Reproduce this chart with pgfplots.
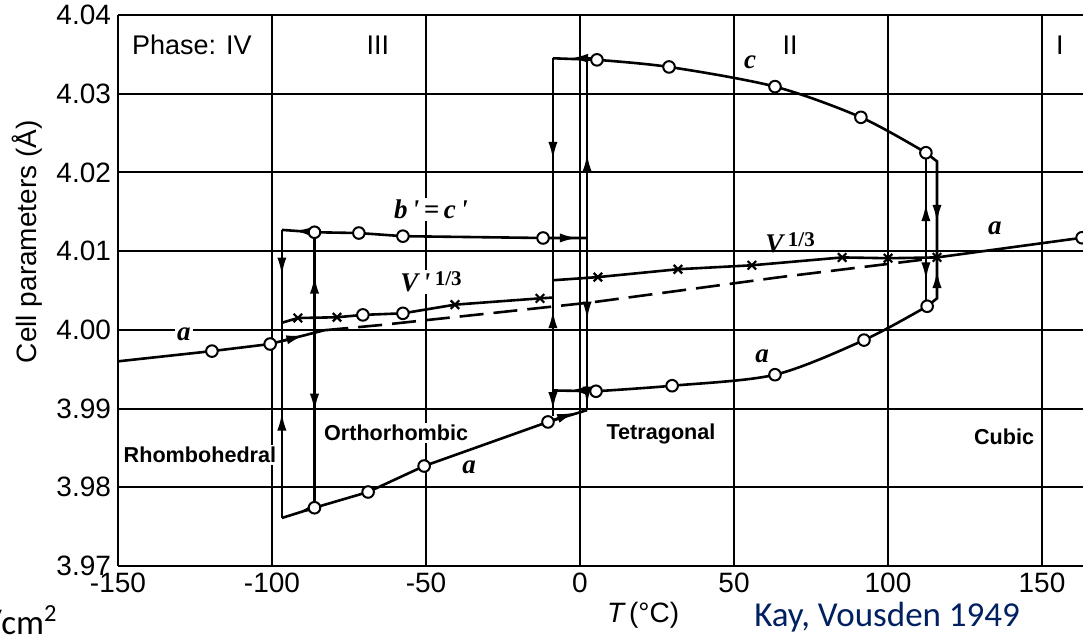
\documentclass[border=0pt]{standalone}
\usepackage{fontspec}
\setmainfont{Liberation Sans}
\newfontfamily\tnr{Liberation Serif}
\newfontfamily\carlito{Carlito}
\usepackage{pgfplots}
\pgfplotsset{compat=1.18}
\usetikzlibrary{arrows.meta}
\definecolor{navy}{RGB}{0,32,96}
\pgfplotsset{
  ln/.style={black, line width=1.3pt, mark=none},
  circ/.style={only marks, mark=*, mark size=2.9pt, mark options={fill=white, draw=black, line width=1pt, solid}},
  xm/.style={only marks, mark=x, mark size=3pt, mark options={black, line width=1.1pt, solid}},
  arr/.style={black, line width=1.3pt, mark=none, -{Latex[length=9pt,width=4.6pt]}},
}
\begin{document}
\begin{tikzpicture}
\begin{axis}[
  at={(0,0)}, anchor=south west,
  scale only axis, width=482.5pt, height=275.5pt,
  xmin=-150, xmax=163.3, ymin=3.97, ymax=4.04,
  xtick={-150,-100,-50,0,50,100,150},
  ytick={3.97,3.98,3.99,4.00,4.01,4.02,4.03,4.04},
  grid=major, major grid style={black, line width=1.05pt},
  axis x line=box, axis y line=left,
  axis line style={-, black, line width=1.3pt},
  every outer x axis line/.append style={-}, every outer y axis line/.append style={-},
  major tick length=0pt, tick style={draw=none},
  /pgf/number format/assume math mode=true,
  tick label style={font=\fontsize{14}{14}\selectfont},
  yticklabel style={/pgf/number format/.cd, fixed, fixed zerofill, precision=2},
  xticklabel style={/pgf/number format/.cd, fixed, precision=0},
  clip=false,
]
% rhombohedral a (solid) and extrapolated dashed line
\addplot[ln] coordinates {(-150,3.9960) (-119.5,3.9973) (-100.6,3.9982) (-83,3.99995)};
\addplot[ln, dash pattern=on 12pt off 5pt] coordinates {(-83,3.99995) (-65,4.0006) (4,4.0035) (65,4.0067) (111,4.0089)};
% orthorhombic b'=c'
\addplot[ln] coordinates {(-96.8,4.0127) (-86.2,4.0124) (-71.8,4.0123) (-57.5,4.0119) (-12.0,4.01167) (2.3,4.01167)};
% orthorhombic a
\addplot[ln] coordinates {(-96.8,3.9761) (-86.2,3.9774) (-68.8,3.9794) (-50.6,3.9827) (-10.4,3.9883) (2.3,3.9898)};
% V'^(1/3)
\addplot[ln] coordinates {(-96.8,4.0009) (-91.6,4.0015) (-78.9,4.0016) (-70.5,4.0019) (-57.5,4.0021) (-40.6,4.0032) (-13,4.0040) (-8.8,4.0041)};
% tetragonal c
\addplot[ln] coordinates {(-8.8,4.0345) (5.5,4.0343)};
\addplot[ln, smooth] coordinates {(5.5,4.0343) (28.9,4.0334) (63.3,4.0309) (91.2,4.0270) (112.3,4.0225)};
% tetragonal a
\addplot[ln] coordinates {(-8.8,3.9923) (5.2,3.9922)};
\addplot[ln, smooth] coordinates {(5.2,3.9922) (29.9,3.9929) (63.3,3.9943) (92.2,3.9987) (112.7,4.0030)};
% tetragonal V^(1/3)
\addplot[ln] coordinates {(-8.8,4.0063) (5.8,4.0067) (31.8,4.0077) (55.8,4.0082) (85.1,4.0092) (100,4.0091) (115.9,4.0092)};
% cubic a
\addplot[ln] coordinates {(115.9,4.0092) (163,4.0117)};
% vertical transition lines
\addplot[ln] coordinates {(-96.8,4.0127) (-96.8,3.9761)};
\addplot[ln] coordinates {(-86.2,4.0124) (-86.2,3.9774)};
\addplot[ln] coordinates {(-8.8,4.0345) (-8.8,3.9890)};
\addplot[ln] coordinates {(2.3,4.0345) (2.3,3.9898)};
\addplot[ln] coordinates {(112.3,4.0225) (112.3,4.0030)};
\addplot[ln] coordinates {(112.3,4.0225) (115.9,4.0214) (115.9,4.0040) (112.7,4.0030)};
% arrows
\addplot[arr] coordinates {(-97,3.99856) (-89.5,3.9993)};
\addplot[arr] coordinates {(-86.2,4.01243) (-93,4.0126)};
\addplot[arr] coordinates {(-96.8,4.0100) (-96.8,4.0069)};
\addplot[arr] coordinates {(-96.8,3.9858) (-96.8,3.9895)};
\addplot[arr] coordinates {(-86.2,4.0035) (-86.2,4.0069)};
\addplot[arr] coordinates {(-86.2,3.9932) (-86.2,3.9896)};
\addplot[arr] coordinates {(-86.2,3.97745) (-91.5,3.9768)};
\addplot[arr] coordinates {(-10,4.01167) (-0.7,4.01167)};
\addplot[arr] coordinates {(5,4.0345) (-3.2,4.0345)};
\addplot[arr] coordinates {(-8.8,4.0255) (-8.8,4.0216)};
\addplot[arr] coordinates {(-8.8,3.9990) (-8.8,4.0025)};
\addplot[arr] coordinates {(-8.8,3.9932) (-8.8,3.9898)};
\addplot[arr] coordinates {(2.3,4.0188) (2.3,4.0224)};
\addplot[arr] coordinates {(2.3,4.0050) (2.3,4.0013)};
\addplot[arr] coordinates {(2.3,3.9937) (2.3,3.9905)};
\addplot[arr] coordinates {(5.2,3.9923) (-3.5,3.9923)};
\addplot[arr] coordinates {(-10.4,3.9883) (-1.6,3.9895)};
\addplot[arr] coordinates {(112.3,4.0125) (112.3,4.0161)};
\addplot[arr] coordinates {(112.3,4.0097) (112.3,4.0063)};
\addplot[arr] coordinates {(115.9,4.0172) (115.9,4.0136)};
\addplot[arr] coordinates {(115.9,4.0042) (115.9,4.0076)};
% markers
\addplot[xm] coordinates {(-91.6,4.0015) (-78.9,4.0016) (-40.6,4.0032) (-13,4.0040)
  (5.8,4.0067) (31.8,4.0077) (55.8,4.0082) (85.1,4.0092) (100,4.0091) (115.9,4.0092)};
\addplot[circ] coordinates {(-119.5,3.9973) (-100.6,3.9982)
  (-86.2,4.0124) (-71.8,4.0123) (-57.5,4.0119) (-12.0,4.01167)
  (-86.2,3.9774) (-68.8,3.9794) (-50.6,3.9827) (-10.4,3.9883)
  (-70.5,4.0019) (-57.5,4.0021)
  (5.5,4.0343) (28.9,4.0334) (63.3,4.0309) (91.2,4.0270) (112.3,4.0225)
  (5.2,3.9922) (29.9,3.9929) (63.3,3.9943) (92.2,3.9987) (112.7,4.0030)
  (163,4.0117)};
% phase labels
\begin{scope}[every node/.style={font=\fontsize{13.5}{14}\selectfont, inner sep=1pt}]
\node at (axis cs:-126,4.0362) {Phase: IV};
\node at (axis cs:-65.6,4.0362) {III};
\node at (axis cs:68.2,4.0362) {II};
\node at (axis cs:155.8,4.0362) {I};
\end{scope}
\begin{scope}[every node/.style={font=\fontsize{10.8}{12}\selectfont\bfseries, inner sep=1pt}]
\node[fill=white] at (axis cs:-123.4,3.9841) {Rhombohedral};
\node[fill=white] at (axis cs:-59.7,3.9869) {Orthorhombic};
\node at (axis cs:26.3,3.98677) {Tetragonal};
\node at (axis cs:137.7,3.98639) {Cubic};
\end{scope}
\begin{scope}[every node/.style={font=\fontsize{13.5}{14}\selectfont\tnr\bfseries\itshape, inner sep=1pt}]
\node[fill=white] at (axis cs:-128.6,3.99947) {a};
\node[fill=white] at (axis cs:-48.4,4.01535) {b\,'\,=\,c\,'};
\node[fill=white] at (axis cs:-48.4,4.00608) {V\,'\,\raisebox{3pt}{\upshape\fontsize{10.5}{11}\selectfont 1/3}};
\node at (axis cs:55.2,4.03403) {c};
\node at (axis cs:68.2,4.01103) {V\,\raisebox{3pt}{\upshape\fontsize{10.5}{11}\selectfont 1/3}};
\node at (axis cs:134.7,4.01294) {a};
\node at (axis cs:59.1,3.99668) {a};
\node at (axis cs:-36.0,3.98257) {a};
\end{scope}
% axis titles and notes
\node[rotate=90, font=\fontsize{14}{14}\selectfont] at (axis cs:-179.5,4.0112) {Cell parameters (Å)};
\node[font=\fontsize{14}{14}\selectfont] at (axis cs:20.5,3.96377) {{\itshape T}\,(°C)};
\node[anchor=base, font=\fontsize{17.5}{18}\selectfont\carlito, text=navy, inner sep=0pt] at (axis cs:99.7,3.96225) {Kay, Vousden 1949};
\node[anchor=base east, font=\fontsize{17.5}{18}\selectfont\carlito, inner sep=0pt] at (axis cs:-169.5,3.96136) {V/cm\textsuperscript{2}};
\end{axis}
\pgfresetboundingbox
\path[use as bounding box] (-59pt,-35pt) rectangle (482.5pt,283pt);
\end{tikzpicture}
\end{document}
